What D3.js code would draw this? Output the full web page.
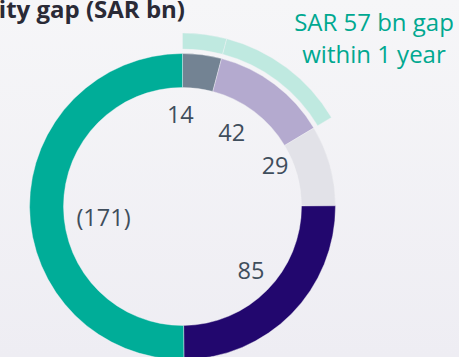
<!DOCTYPE html>
<html>
<head>
<meta charset="utf-8">
<script src="https://cdn.jsdelivr.net/npm/d3@7"></script>
<style>
  html, body { margin: 0; padding: 0; overflow: hidden; }
  body { width: 459px; height: 357px; }
  svg { display: block; }
</style>
</head>
<body>
<svg id="chart" width="459" height="357"></svg>
<script>
// Liquidity gap buckets (SAR bn); the last bucket is a negative gap
const buckets = ["Up to 1 month", "1-12 months", "1-5 years", "Over 5 years", "Non-maturity"];
const gapValues = [14, 42, 29, 85, -171];
const bucketColors = ["#738393", "#b4aacf", "#e2e2e8", "#22076e", "#00ad98"];
// Buckets falling within one year, marked by the outer band
const withinYear = ["Up to 1 month", "1-12 months"];
const titleText = "Liquidity gap (SAR bn)";
const noteLines = ["SAR 57 bn gap", "within 1 year"];

const svg = d3.select("#chart");
const W = 459, H = 357;

// soft background wash
const defs = svg.append("defs");
const bg = defs.append("linearGradient").attr("id", "bg").attr("x1", 0).attr("y1", 0).attr("x2", 0).attr("y2", 1);
bg.append("stop").attr("offset", "0%").attr("stop-color", "#f6f6f8");
bg.append("stop").attr("offset", "100%").attr("stop-color", "#eeedf3");
svg.append("rect").attr("width", W).attr("height", H).attr("fill", "url(#bg)");

const cx = 182.5, cy = 206.5;
const g = svg.append("g").attr("transform", `translate(${cx},${cy})`);

const data = buckets.map((b, i) => ({ bucket: b, value: gapValues[i], color: bucketColors[i] }));

const pie = d3.pie().sort(null).value(d => Math.abs(d.value)).startAngle(0).endAngle(2 * Math.PI);
const arcs = pie(data);

const ring = d3.arc().innerRadius(119).outerRadius(153);
g.selectAll("path.seg").data(arcs).join("path")
  .attr("class", "seg")
  .attr("d", ring)
  .attr("fill", d => d.data.color)
  .attr("stroke", "#f3f3f6").attr("stroke-width", 0.4);

// outer band over the within-one-year buckets
const band = d3.arc().innerRadius(157.5).outerRadius(173.5);
g.selectAll("path.band").data(arcs.filter(a => withinYear.includes(a.data.bucket))).join("path")
  .attr("class", "band")
  .attr("d", band)
  .attr("fill", "#bfe9e0")
  .attr("stroke", "#f3f3f6").attr("stroke-width", 0.4);

// value labels inside the ring
const labelArc = d3.arc().innerRadius(92).outerRadius(92);
const nudge = [[-14, 0], [-6, 0], [4, -16], [3, 0], [13, 11]];
const fmt = v => v < 0 ? `(${Math.abs(v)})` : `${v}`;
g.selectAll("text.val").data(arcs).join("text")
  .attr("class", "val")
  .attr("transform", (d, i) => {
    const [x, y] = labelArc.centroid(d);
    return `translate(${x + nudge[i][0]},${y + nudge[i][1]})`;
  })
  .attr("text-anchor", "middle")
  .attr("dy", "0.35em")
  .attr("font-family", "'Open Sans', sans-serif")
  .attr("font-size", 23.5)
  .attr("fill", "#3f4e5c")
  .text(d => fmt(d.data.value));

// title
svg.append("text")
  .attr("x", 185).attr("y", 17.5)
  .attr("text-anchor", "end")
  .attr("font-family", "'Open Sans', sans-serif")
  .attr("font-weight", 700)
  .attr("font-size", 24)
  .attr("fill", "#2a2a36")
  .text(titleText);

// annotation
const note = svg.append("text")
  .attr("text-anchor", "middle")
  .attr("font-family", "'Open Sans', sans-serif")
  .attr("font-size", 24)
  .attr("fill", "#00a890");
note.selectAll("tspan").data(noteLines).join("tspan")
  .attr("x", 374)
  .attr("y", (d, i) => 31 + i * 32)
  .text(d => d);
</script>
</body>
</html>
